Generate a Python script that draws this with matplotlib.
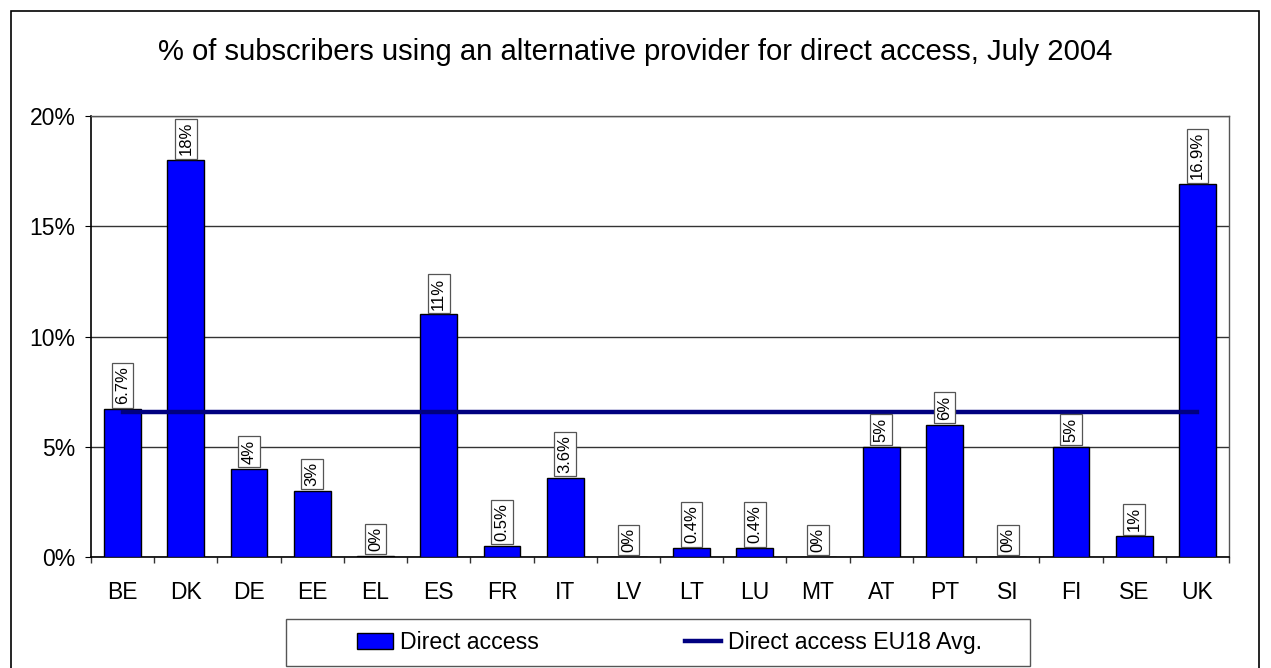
import matplotlib
matplotlib.use("Agg")
import matplotlib.pyplot as plt
from matplotlib.patches import Rectangle
from matplotlib.ticker import FuncFormatter

plt.rcParams['font.family'] = ['Liberation Sans', 'DejaVu Sans']

countries = ["BE", "DK", "DE", "EE", "EL", "ES", "FR", "IT", "LV", "LT",
             "LU", "MT", "AT", "PT", "SI", "FI", "SE", "UK"]
direct_access = [6.7, 18.0, 4.0, 3.0, 0.05, 11.0, 0.5, 3.6, 0.0, 0.4,
                 0.4, 0.0, 5.0, 6.0, 0.0, 5.0, 0.95, 16.9]
value_labels = ["6.7%", "18%", "4%", "3%", "0%", "11%", "0.5%", "3.6%", "0%", "0.4%",
                "0.4%", "0%", "5%", "6%", "0%", "5%", "1%", "16.9%"]
eu_avg = 6.57
yticks = [0, 5, 10, 15, 20]

W, H = 1271, 668
fig = plt.figure(figsize=(W / 100, H / 100), dpi=100)
fig.patch.set_facecolor('white')

# outer frame
fig.patches.append(Rectangle((11 / W, -0.01), (1259 - 11) / W, 1 - 11 / H + 0.01,
                             transform=fig.transFigure, fill=False,
                             edgecolor='black', linewidth=1.2))

left, right, top, bottom = 91, 1229, 116, 557
ax = fig.add_axes([left / W, 1 - bottom / H, (right - left) / W, (bottom - top) / H])

x = list(range(len(countries)))
bars = ax.bar(x, direct_access, width=0.58, color='#0000FF', edgecolor='black',
              linewidth=1.0, zorder=3, label='Direct access')
ax.plot([x[0], x[-1]], [eu_avg, eu_avg], color='#000080', linewidth=3.2,
        zorder=4, label='Direct access EU18 Avg.')

for xi, v, lab in zip(x, direct_access, value_labels):
    ax.annotate(lab, xy=(xi, v), xytext=(0, 3.5), textcoords='offset points',
                ha='center', va='bottom', rotation=90, fontsize=12,
                bbox=dict(boxstyle='square,pad=0.2', facecolor='white',
                          edgecolor='#555555', linewidth=0.9), zorder=5)

ax.set_xlim(-0.5, len(countries) - 0.5)
ax.set_ylim(0, 20)
ax.set_yticks(yticks)
ax.yaxis.set_major_formatter(FuncFormatter(lambda v, p: f"{int(v)}%"))
ax.set_xticks([i - 0.5 for i in range(len(countries) + 1)], minor=False)
ax.set_xticklabels([])
ax.set_xticks(x, minor=True)
ax.set_xticklabels(countries, minor=True)
ax.tick_params(axis='x', which='minor', length=0, pad=17, labelsize=16.5)
ax.tick_params(axis='x', which='major', direction='out', length=4.3, width=1, color='#333333')
ax.tick_params(axis='y', direction='out', length=4.3, labelsize=16.5, pad=6.8)
ax.grid(axis='y', color='#333333', linewidth=1.0, zorder=0)
for s in ['top', 'right']:
    ax.spines[s].set_color('#555555')
    ax.spines[s].set_linewidth(1.0)
for s in ['left', 'bottom']:
    ax.spines[s].set_color('black')
    ax.spines[s].set_linewidth(1.2)
ax.set_axisbelow(True)

fig.text(0.5, 1 - 60 / H, "% of subscribers using an alternative provider for direct access, July 2004",
         ha='center', va='baseline', fontsize=21.1)

# legend frame (drawn separately) and entries
fig.patches.append(Rectangle((286 / W, 1 - 666 / H), (1030 - 286) / W, (666 - 619) / H,
                             transform=fig.transFigure, fill=True, facecolor='white',
                             edgecolor='#555555', linewidth=1.0, zorder=1))
leg = fig.legend(handles=[bars, ax.lines[0]], loc='center left',
                 bbox_to_anchor=(357 / W, 1 - 642.5 / H),
                 ncol=2, fontsize=16.7, frameon=False,
                 handlelength=1.55, handletextpad=0.3, columnspacing=6.3,
                 borderaxespad=0, borderpad=0)

fig.savefig("out.png", dpi=100)
